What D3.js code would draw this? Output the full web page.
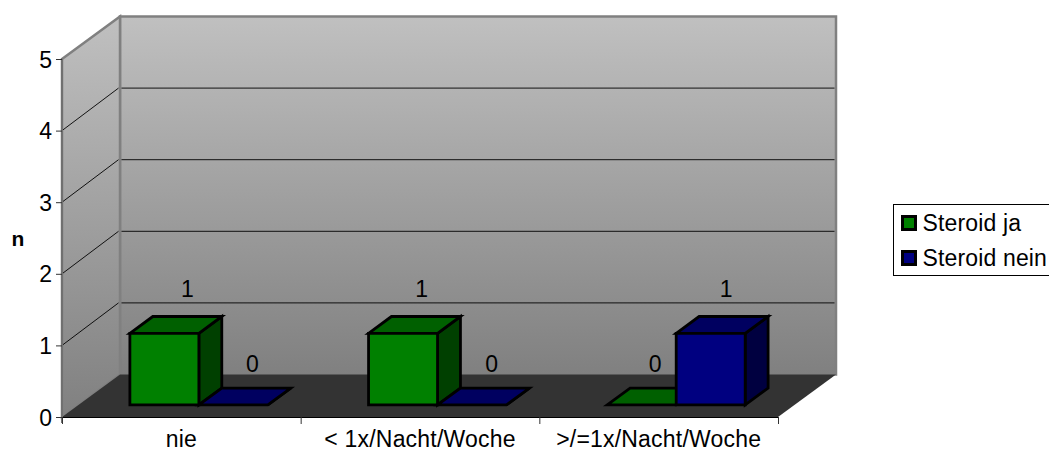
<!DOCTYPE html>
<html><head><meta charset="utf-8">
<script src="https://cdn.jsdelivr.net/npm/d3@7"></script>
<style>html,body{margin:0;padding:0;background:#fff}svg{display:block}text{font-family:"Liberation Sans",Arial,sans-serif;fill:#000}</style>
</head><body><svg id="c" width="1049" height="452"></svg>
<script>
const categories = ["nie", "< 1x/Nacht/Woche", ">/=1x/Nacht/Woche"];
const seriesNames = ["Steroid ja", "Steroid nein"];
const steroidJa = [1, 1, 0];
const steroidNein = [0, 0, 1];
const yTicks = [0, 1, 2, 3, 4, 5];
const seriesValues = [steroidJa, steroidNein];
const faceColors = [
  {front: "#008000", top: "#006000", side: "#004000"},
  {front: "#000080", top: "#000060", side: "#000040"}
];

const svg = d3.select("#c");
const defs = svg.append("defs");
const grad = defs.append("linearGradient").attr("id", "wall").attr("x1", 0).attr("x2", 0).attr("y1", 0).attr("y2", 1);
grad.append("stop").attr("offset", 0).attr("stop-color", "#c0c0c0");
grad.append("stop").attr("offset", 1).attr("stop-color", "#808080");

// Oblique projection: category position, value height, depth into the chart.
const x = d3.scaleBand().domain(d3.range(categories.length)).range([62, 778]);
const inner = d3.scaleBand().domain([0, 1]).range([0, x.bandwidth()]).paddingOuter(0.73).paddingInner(0).align(0.51);
const y = d3.scaleLinear().domain([0, 5]).range([417, 59]);
const depthX = d3.scaleLinear().domain([0, 1]).range([0, 58]);
const depthY = d3.scaleLinear().domain([0, 1]).range([0, -42.5]);
const px = (a, z) => a + depthX(z);
const py = (v, z) => y(v) + depthY(z);
const poly = pts => "M" + pts.map(p => p.join(",")).join("L") + "Z";

const xL = x.range()[0], xR = x.range()[1];
const vMax = 5;

// Walls and floor
svg.append("path").attr("d", poly([[px(xL,1),py(vMax,1)],[px(xR,1),py(vMax,1)],[px(xR,1),py(0,1)],[px(xL,1),py(0,1)]]))
  .attr("fill", "url(#wall)").attr("stroke", "#808080").attr("stroke-width", 2.5);
svg.append("path").attr("d", poly([[px(xL,0),py(vMax,0)],[px(xL,1),py(vMax,1)],[px(xL,1),py(0,1)],[px(xL,0),py(0,0)]]))
  .attr("fill", "url(#wall)").attr("stroke", "#808080").attr("stroke-width", 2.5);
svg.append("path").attr("d", poly([[px(xL,0),py(0,0)],[px(xL,1),py(0,1)],[px(xR,1),py(0,1)],[px(xR,0),py(0,0)]]))
  .attr("fill", "#333333");

// Gridlines on both walls
yTicks.filter(t => t > 0 && t < vMax).forEach(t => {
  const gy = py(t, 1);
  svg.append("line").attr("x1", px(xL,0)).attr("y1", py(t,0)).attr("x2", px(xL,1) - 1.5).attr("y2", gy)
    .attr("stroke", "#000").attr("stroke-width", 0.9);
  svg.append("line").attr("x1", px(xL,1) + 1.5).attr("y1", gy).attr("x2", px(xR,1) - 1.5).attr("y2", gy)
    .attr("stroke", "#000").attr("stroke-width", 0.9);
});

// Axes
svg.append("path").attr("d", `M${xL},${y(vMax)-0.5}V${y(0)+6}`).attr("stroke", "#707070").attr("stroke-width", 2).attr("fill", "none");
svg.append("path").attr("d", `M${xL},${y(0)+0.5}H${xR}`).attr("stroke", "#000").attr("stroke-width", 1);
yTicks.forEach(t => {
  svg.append("line").attr("x1", xL - 6).attr("x2", xL).attr("y1", y(t) + 0.5).attr("y2", y(t) + 0.5).attr("stroke", "#333");
  svg.append("text").attr("x", xL - 10).attr("y", y(t) + 8.5).attr("text-anchor", "end").attr("font-size", 23).text(t);
});
d3.range(categories.length + 1).forEach(i => {
  const tx = xL + i * x.bandwidth();
  svg.append("line").attr("x1", tx + .5).attr("x2", tx + .5).attr("y1", y(0)).attr("y2", y(0) + 7).attr("stroke", "#333");
});
categories.forEach((c, i) => {
  svg.append("text").attr("x", x(i) + x.bandwidth() / 2).attr("y", 447).attr("text-anchor", "middle")
    .attr("font-size", 23).attr("letter-spacing", 0.2).text(c);
});
svg.append("text").attr("x", 18).attr("y", 246).attr("text-anchor", "middle").attr("font-size", 21).attr("font-weight", "bold").text("n");

// Bars, drawn left to right so a taller neighbour covers a flat one
const zFront = 0.285, zBack = 0.68;
categories.forEach((c, i) => {
  seriesValues.forEach((vals, s) => {
    const v = vals[i];
    const a = x(i) + inner(s), b = a + inner.bandwidth();
    const col = faceColors[s];
    const g = svg.append("g").attr("stroke", "#000").attr("stroke-width", 2.8).attr("stroke-linejoin", "miter");
    g.append("path").attr("d", poly([[px(b,zFront),py(0,zFront)],[px(b,zBack),py(0,zBack)],[px(b,zBack),py(v,zBack)],[px(b,zFront),py(v,zFront)]])).attr("fill", col.side);
    g.append("path").attr("d", poly([[px(a,zFront),py(v,zFront)],[px(a,zBack),py(v,zBack)],[px(b,zBack),py(v,zBack)],[px(b,zFront),py(v,zFront)]])).attr("fill", col.top);
    if (v > 0) g.append("path").attr("d", poly([[px(a,zFront),py(0,zFront)],[px(a,zFront),py(v,zFront)],[px(b,zFront),py(v,zFront)],[px(b,zFront),py(0,zFront)]])).attr("fill", col.front);
  });
});

// Value labels sit above and behind each bar; the offset shifts slightly per group and series
const labelShift = [[23, 19], [18.5, 19.5], [13.5, 15.5]];
categories.forEach((c, i) => {
  seriesValues.forEach((vals, s) => {
    const v = vals[i];
    const a = x(i) + inner(s) + inner.bandwidth() / 2;
    svg.append("text").attr("x", px(a, zFront) + labelShift[i][s]).attr("y", py(v, zFront) + (v > 0 ? -36 : -33))
      .attr("text-anchor", "middle").attr("font-size", 23).text(v);
  });
});

// Legend
const lg = svg.append("g");
lg.append("rect").attr("x", 893.5).attr("y", 204.5).attr("width", 170).attr("height", 71).attr("fill", "#fff").attr("stroke", "#000");
seriesNames.forEach((n, i) => {
  lg.append("rect").attr("x", 902.5).attr("y", 216.5 + i * 35).attr("width", 13).attr("height", 13).attr("fill", faceColors[i].front).attr("stroke", "#000").attr("stroke-width", 3);
  lg.append("text").attr("x", 922.5).attr("y", 231 + i * 35).attr("font-size", 23).attr("letter-spacing", 0.15).text(n);
});
</script></body></html>
